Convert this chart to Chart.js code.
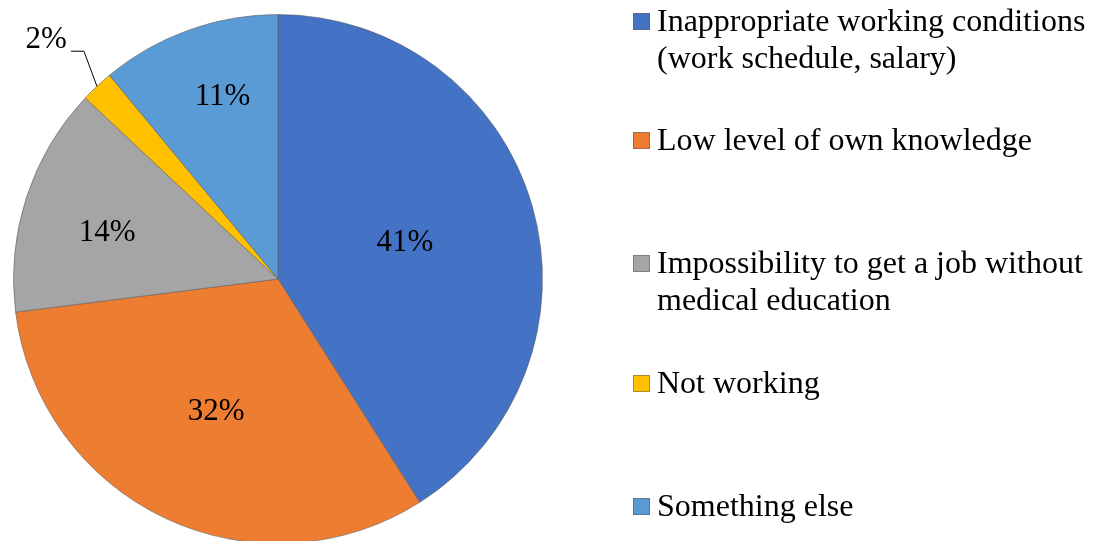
<!DOCTYPE html>
<html>
<head>
<meta charset="utf-8">
<script src="https://cdn.jsdelivr.net/npm/chart.js@4.4.1/dist/chart.umd.min.js"></script>
<style>
  html, body { margin: 0; padding: 0; background: #fff; }
  #wrap { width: 1093px; height: 541px; overflow: hidden; position: relative; }
</style>
</head>
<body>
<div id="wrap"><canvas id="reasonsChart" width="1093" height="560"></canvas></div>
<script>
var categories = [
    ['Inappropriate working conditions', '(work schedule, salary)'],
    ['Low level of own knowledge'],
    ['Impossibility to get a job without', 'medical education'],
    ['Not working'],
    ['Something else']
];
var shares = [41, 32, 14, 2, 11];
var sliceColors = ['#4472C4', '#ED7D31', '#A5A5A5', '#FFC000', '#5B9BD5'];

// where each percentage sits inside its slice (fraction of radius, degrees off the middle);
// null = outside with a leader line
var labelRadius = [0.5, 0.55, 0.67, null, 0.725];
var labelTurn = [0, 0, -2.5, 0, 3];
// baseline of the first line of each legend entry
var legendBaselines = [31, 150, 273, 393, 516];

var LEGEND_FONT = '32px "Liberation Serif", "Times New Roman", serif';
var LABEL_FONT = '31px "Liberation Serif", "Times New Roman", serif';

var pieLabels = {
    id: 'pieLabels',
    afterDatasetsDraw: function (chart) {
        var ctx = chart.ctx;
        var arcs = chart.getDatasetMeta(0).data;
        ctx.save();
        ctx.font = LABEL_FONT;
        ctx.fillStyle = '#000';
        ctx.textAlign = 'center';
        ctx.textBaseline = 'middle';
        arcs.forEach(function (arc, i) {
            var p = arc.getProps(['x', 'y', 'startAngle', 'endAngle', 'outerRadius']);
            var mid = (p.startAngle + p.endAngle) / 2 + labelTurn[i] * Math.PI / 180;
            var text = shares[i] + '%';
            if (labelRadius[i] !== null) {
                var r = p.outerRadius * labelRadius[i];
                ctx.fillText(text, p.x + Math.cos(mid) * r, p.y + Math.sin(mid) * r + 1);
            } else {
                // small slice: label outside with a leader line
                var ex = p.x + Math.cos(mid) * p.outerRadius;
                var ey = p.y + Math.sin(mid) * p.outerRadius;
                var kx = ex - 13, ky = ey - 35;
                ctx.strokeStyle = '#000';
                ctx.lineWidth = 1;
                ctx.beginPath();
                ctx.moveTo(ex, ey);
                ctx.lineTo(kx, ky);
                ctx.lineTo(kx - 13, ky);
                ctx.stroke();
                ctx.textAlign = 'right';
                ctx.fillText(text, kx - 17, ky - 11);
                ctx.textAlign = 'center';
            }
        });
        ctx.restore();
    }
};

var sideLegend = {
    id: 'sideLegend',
    afterDraw: function (chart) {
        var ctx = chart.ctx;
        ctx.save();
        ctx.font = LEGEND_FONT;
        ctx.textAlign = 'left';
        ctx.textBaseline = 'alphabetic';
        chart.data.labels.forEach(function (lines, i) {
            var base = legendBaselines[i];
            ctx.fillStyle = sliceColors[i];
            ctx.fillRect(633, base - 18, 17, 17);
            ctx.strokeStyle = 'rgba(90,90,90,0.5)';
            ctx.lineWidth = 1;
            ctx.strokeRect(633.5, base - 17.5, 16, 16);
            ctx.fillStyle = '#000';
            lines.forEach(function (line, j) {
                ctx.fillText(line, 657, base + j * 37);
            });
        });
        ctx.restore();
    }
};

var ctx1 = document.getElementById('reasonsChart').getContext('2d');
var reasonsChart = new Chart(ctx1, {
    type: 'pie',
    data: {
        labels: categories,
        datasets: [{
            data: shares,
            backgroundColor: sliceColors,
            borderColor: 'rgba(90, 90, 90, 0.55)',
            borderWidth: 1
        }]
    },
    options: {
        responsive: false,
        animation: false,
        layout: {
            padding: { top: 14, bottom: 16, left: 13, right: 550 }
        },
        plugins: {
            legend: { display: false },
            tooltip: { enabled: false }
        }
    },
    plugins: [pieLabels, sideLegend]
});
</script>
</body>
</html>
